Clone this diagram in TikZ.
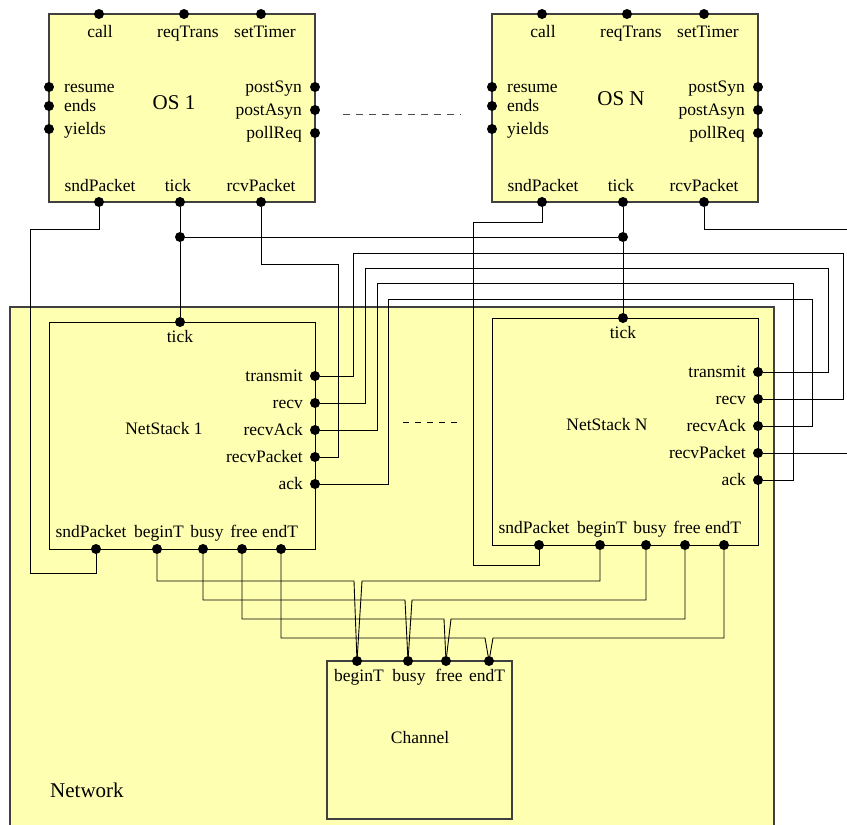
\documentclass[tikz,border=0pt]{standalone}
\usepackage{fontspec}
\setmainfont{Liberation Serif}
\usetikzlibrary{positioning}
\definecolor{boxyellow}{RGB}{255,255,178}

\begin{document}
\begin{tikzpicture}[x=1pt, y=-1pt,
    box/.style={draw=black!75, fill=boxyellow, line width=1.1pt},
    port/.style={circle, fill=black, inner sep=0pt, minimum size=10pt},
    wire/.style={line width=0.9pt},
    lbl/.style={font=\fontsize{17.5}{20}\selectfont, inner sep=0pt},
    title/.style={font=\fontsize{21}{24}\selectfont, inner sep=0pt}]
    \useasboundingbox (0,0) rectangle (847,825);
    \clip (0,0) rectangle (847,825);

    % network
    \draw[box] (10,307) rectangle (774,840);
    \node[title, anchor=base west] (net) at (50,797) {Network};

    % operating systems
    \foreach \i/\x/\tx/\ty in {1/49/125/103, N/492/129/99} {
        \draw[box] (\x,14) rectangle ++(266,188);
        \node[title] (os\i) at (\x+\tx,\ty) {OS \i};
        \foreach \p/\px/\lx in {call/50/51, reqTrans/135/139, setTimer/212/216} {
            \node[port] (os\i-\p) at (\x+\px,14) {};
            \node[lbl, anchor=base] (os\i-\p-l) at (\x+\lx,37) {\p};
        }
        \foreach \p/\py in {resume/87, ends/106, yields/129} {
            \node[port] (os\i-\p) at (\x,\py) {};
            \node[lbl, anchor=base west] (os\i-\p-l) at (\x+15,\py+5) {\p};
        }
        \foreach \p/\py in {postSyn/87, postAsyn/110, pollReq/133} {
            \node[port] (os\i-\p) at (\x+266,\py) {};
            \node[lbl, anchor=base east] (os\i-\p-l) at (\x+253,\py+5) {\p};
        }
        \foreach \p/\px/\lx in {sndPacket/50/51, tick/131/129, rcvPacket/212/212} {
            \node[port] (os\i-\p) at (\x+\px,202) {};
            \node[lbl, anchor=base] (os\i-\p-l) at (\x+\lx,191) {\p};
        }
    }
    \draw[dashed, black!70, dash pattern=on 7pt off 6pt] (343,114) -- (461,114);

    % network stacks
    \foreach \i/\x/\y in {1/49/322, N/492/318} {
        \draw[box, draw=black, line width=0.9pt] (\x,\y) rectangle ++(266,227);
        \node[lbl] (ns\i) at (\x+115,\y+107) {NetStack \i};
        \node[port] (ns\i-tick) at (\x+131,\y) {};
        \node[lbl, anchor=base] (ns\i-tick-l) at (\x+131,\y+20) {tick};
        \foreach \p/\py in {transmit/54, recv/81, recvAck/108, recvPacket/135, ack/162} {
            \node[port] (ns\i-\p) at (\x+266,\y+\py) {};
            \node[lbl, anchor=base east] (ns\i-\p-l) at (\x+254,\y+\py+5) {\p};
        }
        \foreach \p/\px/\lx in {sndPacket/47/42, beginT/108/110, busy/154/158, free/193/195, endT/232/231} {
            \node[port] (ns\i-\p) at (\x+\px,\y+227) {};
            \node[lbl, anchor=base] (ns\i-\p-l) at (\x+\lx,\y+215) {\p};
        }
    }
    \draw[dashed, dash pattern=on 6pt off 6pt] (403,422) -- (458,422);

    % channel
    \draw[box] (327,661) rectangle (512,819);
    \node[lbl] (ch) at (420,738) {Channel};
    \foreach \p/\px/\lx in {beginT/357/359, busy/408/409, free/446/449, endT/489/487} {
        \node[port] (ch-\p) at (\px,661) {};
        \node[lbl, anchor=base] (ch-\p-l) at (\lx,681) {\p};
    }

    % junctions
    \node[port] (j1) at (180,237) {};
    \node[port] (j2) at (623,237) {};

    % wires
    \draw[wire] (os1-sndPacket) |- (30,229) |- (96,573) -- (ns1-sndPacket);
    \draw[wire] (osN-sndPacket) |- (473,222) |- (539,565) -- (nsN-sndPacket);
    \draw[wire] (os1-tick) -- (j1) -- (ns1-tick);
    \draw[wire] (osN-tick) -- (j2) -- (nsN-tick);
    \draw[wire] (j1) -- (j2);
    \draw[wire] (os1-rcvPacket) |- (338,264) |- (ns1-recvPacket);
    \draw[wire] (osN-rcvPacket) |- (850,229);
    \draw[wire] (nsN-recvPacket) -- (850,453);
    \draw[wire] (ns1-transmit) -| (353,253) -- (843,253) |- (nsN-recv);
    \draw[wire] (ns1-recv) -| (365,268) -- (828,268) |- (nsN-transmit);
    \draw[wire] (ns1-recvAck) -| (377,283) -- (793,283) |- (nsN-ack);
    \draw[wire] (ns1-ack) -| (388,299) -- (812,299) |- (nsN-recvAck);
    \foreach \p/\h/\a/\b in {beginT/581/354/362, busy/600/405/412, free/619/444/451, endT/638/485/493} {
        \draw[wire] (ns1-\p) |- (\a,\h) -- (ch-\p);
        \draw[wire] (nsN-\p) |- (\b,\h) -- (ch-\p);
    }
\end{tikzpicture}
\end{document}
